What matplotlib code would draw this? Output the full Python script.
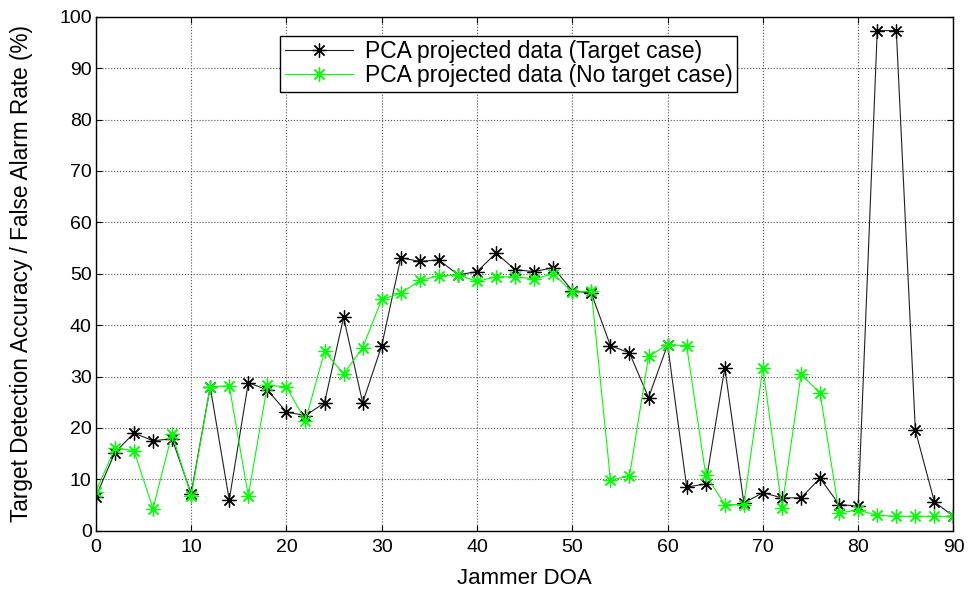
import numpy as np
import matplotlib
matplotlib.use("Agg")
import matplotlib.pyplot as plt

plt.rcParams['font.family'] = ['Liberation Sans', 'DejaVu Sans']

# Jammer DOA (degrees)
doa = list(range(0, 91, 2))

# PCA projected data (Target case)
target_case = [6.6, 15.2, 19.0, 17.5, 17.9, 7.2, 28.0, 6.0, 28.8, 27.4,
               23.1, 22.4, 24.9, 41.5, 24.9, 36.0, 53.1, 52.4, 52.7, 49.8,
               50.4, 54.0, 50.8, 50.4, 51.2, 46.7, 46.2, 36.0, 34.6, 25.9,
               36.2, 8.5, 9.1, 31.7, 5.4, 7.4, 6.4, 6.4, 10.2, 5.1,
               4.8, 97.3, 97.3, 19.5, 5.6, 2.8]

# PCA projected data (No target case)
no_target_case = [7.6, 16.0, 15.6, 4.3, 18.9, 6.7, 28.0, 28.2, 6.8, 28.3,
                  28.0, 21.4, 34.9, 30.5, 35.6, 45.0, 46.2, 48.7, 49.6, 49.8,
                  48.5, 49.4, 49.4, 49.0, 50.0, 46.4, 46.6, 9.9, 10.6, 33.9,
                  36.2, 36.0, 10.9, 5.1, 5.1, 31.7, 4.4, 30.4, 26.8, 3.5,
                  4.0, 3.0, 2.8, 2.8, 2.8, 2.8]

xticks = list(range(0, 91, 10))
yticks = list(range(0, 101, 10))

fig = plt.figure(figsize=(9.68, 5.97), dpi=100)
ax = fig.add_axes([0.099, 0.111, 0.886, 0.861])

asterisk = (8, 2, 0)
ax.plot(doa, target_case, color='#202020', lw=0.8, marker=asterisk,
        markersize=10, markeredgewidth=0.9, markeredgecolor='black',
        label='PCA projected data (Target case)')
ax.plot(doa, no_target_case, color='#00ff00', lw=0.8, marker=asterisk,
        markersize=10, markeredgewidth=0.9, markeredgecolor='#00ff00',
        label='PCA projected data (No target case)')

ax.set_xlim(0, 90)
ax.set_ylim(0, 100)
ax.set_xticks(xticks)
ax.set_yticks(yticks)
ax.tick_params(direction='in', top=True, right=True, labelsize=14, length=4)
ax.tick_params(axis='x', pad=6)
ax.tick_params(axis='y', pad=3)
ax.grid(True, linestyle=':', color='#505050', linewidth=0.8)
for s in ax.spines.values():
    s.set_linewidth(1.0)

ax.set_xlabel('Jammer DOA', fontsize=16)
ax.xaxis.set_label_coords(0.5, -0.072)
ax.set_ylabel('Target Detection Accuracy / False Alarm Rate (%)', fontsize=16.3)
ax.yaxis.set_label_coords(-0.073, 0.5)

leg = ax.legend(loc='upper left', bbox_to_anchor=(0.2147, 0.963), fontsize=16.5,
                fancybox=False, framealpha=1, edgecolor='black',
                handlelength=3.0, handletextpad=0.5, borderpad=0.2,
                labelspacing=0.05, borderaxespad=0)
leg.get_frame().set_linewidth(1.0)

fig.savefig('out.png', dpi=100)
